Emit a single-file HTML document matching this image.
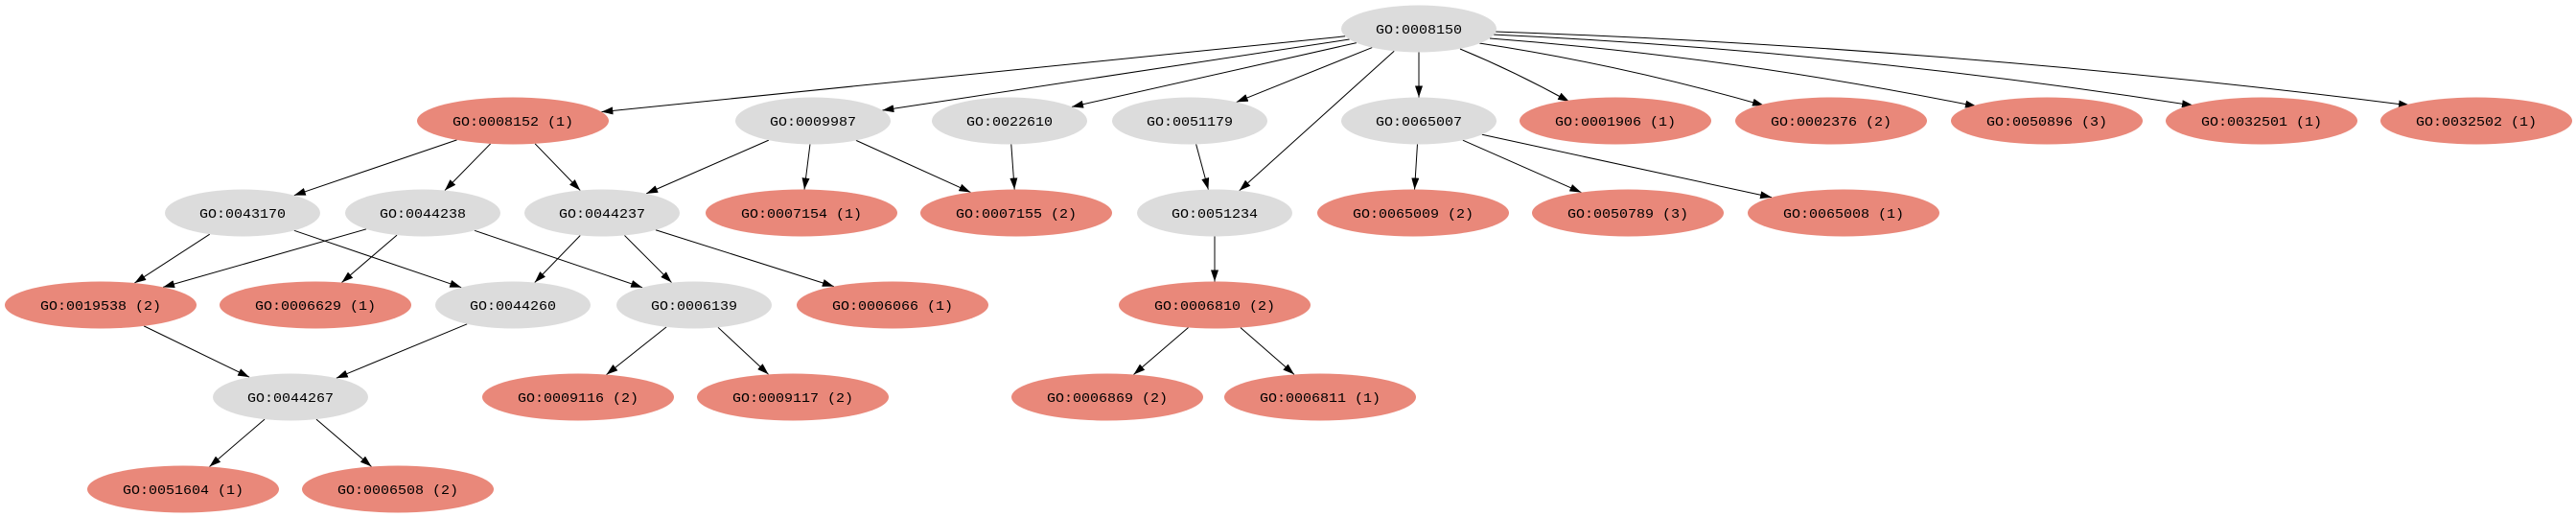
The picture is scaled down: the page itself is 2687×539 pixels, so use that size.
<!DOCTYPE html>
<html><head><meta charset="utf-8"><style>
html,body{margin:0;padding:0;background:#fff;width:2687px;height:539px;overflow:hidden}
svg text{font-family:"Liberation Mono","DejaVu Sans Mono",monospace;font-size:14px;fill:#000}
</style></head><body>
<svg id="g" width="2687" height="539" xmlns="http://www.w3.org/2000/svg">
<defs><marker id="a" markerWidth="12" markerHeight="8" refX="12" refY="4" orient="auto" markerUnits="userSpaceOnUse"><path d="M0,0 L12,4 L0,8 z" fill="#000"/></marker></defs>
<g id="e"></g><g id="n"></g>
</svg>
<script>
var R=[30,126,222,318,414,510];
var N={
"0008150":[1480,0,0],
"0008152 (1)":[535,1,1],"0009987":[848,1,0],"0022610":[1053,1,0],"0051179":[1241,1,0],"0065007":[1480,1,0],
"0001906 (1)":[1685,1,1],"0002376 (2)":[1910,1,1],"0050896 (3)":[2135,1,1],"0032501 (1)":[2359,1,1],"0032502 (1)":[2583,1,1],
"0043170":[253,2,0],"0044238":[441,2,0],"0044237":[628,2,0],"0007154 (1)":[836,2,1],"0007155 (2)":[1060,2,1],"0051234":[1267,2,0],
"0065009 (2)":[1474,2,1],"0050789 (3)":[1698,2,1],"0065008 (1)":[1923,2,1],
"0019538 (2)":[105,3,1],"0006629 (1)":[329,3,1],"0044260":[535,3,0],"0006139":[724,3,0],"0006066 (1)":[931,3,1],"0006810 (2)":[1267,3,1],
"0044267":[303,4,0],"0009116 (2)":[603,4,1],"0009117 (2)":[827,4,1],"0006869 (2)":[1155,4,1],"0006811 (1)":[1377,4,1],
"0051604 (1)":[191,5,1],"0006508 (2)":[415,5,1]};
var E=[["0008150",["0008152 (1)","0009987","0022610","0051179","0051234","0065007"]],
["0008152 (1)",["0043170","0044238","0044237"]],["0009987",["0044237","0007154 (1)","0007155 (2)"]],["0022610",["0007155 (2)"]],
["0051179",["0051234"]],["0043170",["0019538 (2)","0044260"]],["0044238",["0019538 (2)","0006629 (1)","0006139"]],
["0044237",["0044260","0006139","0006066 (1)"]],["0051234",["0006810 (2)"]],["0065007",["0065009 (2)","0050789 (3)","0065008 (1)"]],
["0019538 (2)",["0044267"]],["0044260",["0044267"]],["0006139",["0009116 (2)","0009117 (2)"]],["0006810 (2)",["0006869 (2)","0006811 (1)"]],
["0044267",["0051604 (1)","0006508 (2)"]]];
function info(k){var v=N[k];return {x:v[0],y:R[v[1]],rx:v[2]?100:81,ry:24.5,r:v[2]};}
function bd(p,dx,dy){var t=1/Math.sqrt((dx/p.rx)*(dx/p.rx)+(dy/p.ry)*(dy/p.ry));return [p.x+dx*t,p.y+dy*t];}
var s="";
E.forEach(function(e){var a=info(e[0]);e[1].forEach(function(k){var b=info(k);var dx=b.x-a.x,dy=b.y-a.y;
var p=bd(a,dx,dy),q=bd(b,-dx,-dy);
s+='<line x1="'+p[0]+'" y1="'+p[1]+'" x2="'+q[0]+'" y2="'+q[1]+'" stroke="#000" stroke-width="1" marker-end="url(#a)"/>';});});
var C=[[1523,51,1637,106,4],[1543,45,1840,110,10],[1554,40,2062,111,16],[1557,36,2288,110,20],[1560,33,2514,110,22]];
C.forEach(function(c){var mx=(c[0]+c[2])/2,my=(c[1]+c[3])/2-c[4];
s+='<path d="M'+c[0]+','+c[1]+' Q'+mx+','+my+' '+c[2]+','+c[3]+'" fill="none" stroke="#000" stroke-width="1" marker-end="url(#a)"/>';});
document.getElementById("e").innerHTML=s;
var t="";
for(var k in N){var p=info(k);
t+='<ellipse cx="'+p.x+'" cy="'+p.y+'" rx="'+p.rx+'" ry="'+p.ry+'" fill="'+(p.r?"#e9887a":"#dcdcdc")+'"/>';
var txt="GO:"+k;
t+='<text x="'+p.x+'" y="'+(p.y+5)+'" text-anchor="middle" textLength="'+(txt.length*9)+'" lengthAdjust="spacingAndGlyphs">'+txt+'</text>';}
document.getElementById("n").innerHTML=t;
</script>
</body></html>
